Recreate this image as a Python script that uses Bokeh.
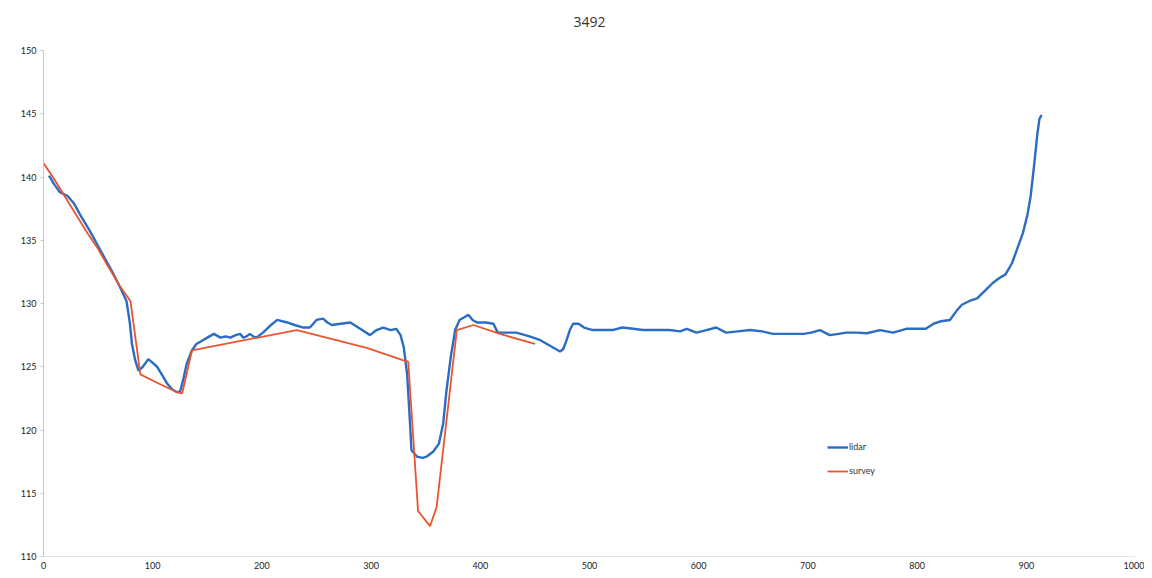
from bokeh.plotting import figure
from bokeh.models import FixedTicker, Legend, LegendItem, Range1d, Title
from bokeh.embed import file_html
from bokeh.resources import INLINE

title_text = "3492"

lidar_x = [5, 10, 15, 22, 28, 35, 42, 49, 56, 63, 70, 76, 79, 81, 84, 87, 91, 96, 100, 104,
           109, 113, 118, 122, 125, 128, 131, 136, 140, 144, 150, 156, 162, 167, 171, 176, 180,
           183, 186, 189, 192, 195, 201, 207, 214, 223, 230, 238, 244, 250, 256, 260, 264, 272,
           281, 290, 299, 305, 311, 318, 323, 327, 330, 333, 335, 337, 342, 347, 351, 357, 362,
           366, 369, 373, 377, 381, 385, 389, 393, 397, 405, 412, 416, 425, 433, 445, 455, 465,
           473, 476, 479, 482, 485, 490, 495, 503, 512, 521, 530, 540, 549, 560, 573, 583, 589,
           598, 607, 616, 625, 636, 647, 658, 668, 682, 696, 703, 711, 720, 728, 735, 745, 754,
           766, 778, 790, 800, 808, 815, 822, 830, 836, 841, 848, 855, 862, 869, 875, 881, 887,
           892, 897, 901, 904, 907, 910, 912, 914]
lidar_y = [140.1, 139.4, 138.8, 138.5, 137.9, 136.8, 135.8, 134.7, 133.6, 132.5, 131.3, 130.2,
           128.5, 126.8, 125.5, 124.7, 125.0, 125.6, 125.3, 125.0, 124.3, 123.7, 123.2, 123.0,
           123.0, 124.0, 125.2, 126.3, 126.8, 127.0, 127.3, 127.6, 127.3, 127.4, 127.3, 127.5,
           127.6, 127.3, 127.4, 127.6, 127.4, 127.3, 127.7, 128.2, 128.7, 128.5, 128.3, 128.1,
           128.1, 128.7, 128.8, 128.5, 128.3, 128.4, 128.5, 128.0, 127.5, 127.9, 128.1, 127.9,
           128.0, 127.5, 126.5, 124.4, 121.5, 118.4, 117.9, 117.8, 117.9, 118.3, 118.9, 120.5,
           123.1, 125.8, 127.9, 128.7, 128.9, 129.1, 128.7, 128.5, 128.5, 128.4, 127.7, 127.7,
           127.7, 127.4, 127.1, 126.6, 126.2, 126.4, 127.1, 127.9, 128.4, 128.4, 128.1, 127.9,
           127.9, 127.9, 128.1, 128.0, 127.9, 127.9, 127.9, 127.8, 128.0, 127.7, 127.9, 128.1,
           127.7, 127.8, 127.9, 127.8, 127.6, 127.6, 127.6, 127.7, 127.9, 127.5, 127.6, 127.7,
           127.7, 127.65, 127.9, 127.7, 128.0, 128.0, 128.0, 128.4, 128.6, 128.7, 129.4, 129.9,
           130.2, 130.4, 131.0, 131.6, 132.0, 132.3, 133.2, 134.4, 135.6, 137.0, 138.5, 140.8,
           143.3, 144.6, 144.9]

survey_x = [0, 10, 20, 30, 40, 50, 60, 70.5, 79.6, 88.7, 105, 122, 127, 136, 232, 296, 329.6,
            334, 343, 354, 360, 378.5, 393.7, 418, 450]
survey_y = [141.1, 139.8, 138.4, 137.0, 135.6, 134.3, 132.8, 131.3, 130.2, 124.4, 123.7, 123.0,
            122.9, 126.3, 127.9, 126.5, 125.5, 125.4, 113.6, 112.4, 113.9, 127.9, 128.3, 127.6,
            126.8]

y_ticks = [110, 115, 120, 125, 130, 135, 140, 145, 150]
x_ticks = [0, 100, 200, 300, 400, 500, 600, 700, 800, 900, 1000]

p = figure(width=1144, height=572, output_backend="svg", toolbar_location=None,
           x_range=Range1d(0, 1000), y_range=Range1d(110, 150),
           title=title_text, min_border_left=43, min_border_right=9,
           min_border_top=50, min_border_bottom=16)

p.title.align = "center"
p.title.text_font = "Open Sans"
p.title.text_font_size = "14px"
p.title.text_font_style = "normal"
p.title.text_color = "#333333"

# empty spacer between the title and the plot area
p.add_layout(Title(text=" ", text_font_size="7px"), "above")

p.outline_line_color = None
p.xgrid.grid_line_color = None
p.ygrid.grid_line_color = None
p.background_fill_color = "white"
p.border_fill_color = "white"

p.yaxis.ticker = FixedTicker(ticks=y_ticks)
p.xaxis.ticker = FixedTicker(ticks=x_ticks)
for ax in (p.xaxis, p.yaxis):
    ax.major_label_text_font = "Lato"
    ax.major_label_text_font_size = "9px"
    ax.major_label_text_color = "#222222"
    ax.minor_tick_line_color = None
    ax.major_tick_in = 0
p.yaxis.axis_line_color = "#c8c8c8"
p.yaxis.major_tick_line_color = "#c8c8c8"
p.yaxis.major_tick_out = 3
p.yaxis.major_label_standoff = 4
p.xaxis.axis_line_color = "#e4e4e4"
p.xaxis.major_tick_line_color = None
p.xaxis.major_tick_out = 0
p.xaxis.major_label_standoff = 5

r_lidar = p.line(lidar_x, lidar_y, line_color="#2B6CC4", line_width=2.4)
r_survey = p.line(survey_x, survey_y, line_color="#E8552E", line_width=1.8)

legend = Legend(items=[LegendItem(label="lidar", renderers=[r_lidar]),
                       LegendItem(label="survey", renderers=[r_survey])],
                location=(784, 80), orientation="vertical",
                label_text_font="Lato", label_text_font_size="9px",
                label_text_color="#333333", glyph_width=21, glyph_height=10,
                spacing=13, label_standoff=1, padding=2,
                border_line_color=None, background_fill_alpha=0)
p.add_layout(legend, "center")

open("out.html", "w").write(file_html(p, INLINE))
